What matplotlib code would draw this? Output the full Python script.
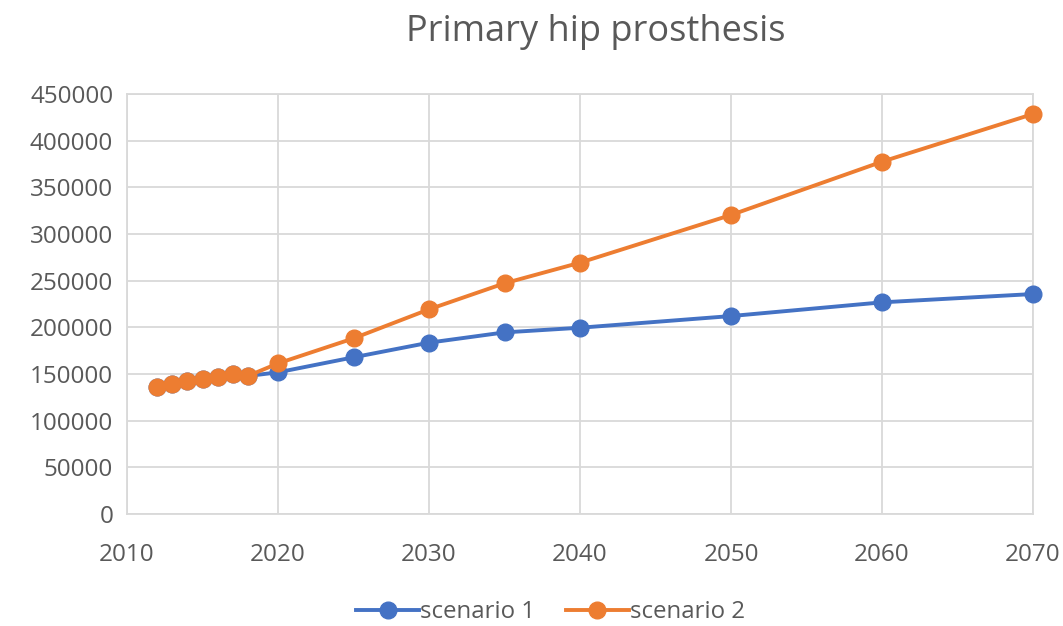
import matplotlib
matplotlib.use("Agg")
import matplotlib.pyplot as plt

years = [2012, 2013, 2014, 2015, 2016, 2017, 2018, 2020, 2025, 2030, 2035, 2040, 2050, 2060, 2070]
scenario1 = [136400, 139300, 142800, 144600, 146400, 149600, 147900, 151800, 167900, 183600, 194600, 199600, 212100, 226800, 235700]
scenario2 = [136400, 139300, 142800, 144600, 146400, 149600, 147900, 161400, 188200, 219300, 247200, 269300, 320400, 377500, 428600]
series_names = ["scenario 1", "scenario 2"]
title = "Primary hip prosthesis"

plt.rcParams['font.family'] = ['Open Sans', 'DejaVu Sans']
text_color = "#595959"
grid_color = "#D9D9D9"

fig = plt.figure(figsize=(10.63, 6.26), dpi=100)
ax = fig.add_axes([0.1195, 0.1789, 0.8523, 0.6709])

ax.plot(years, scenario1, color="#4472C4", lw=2.8, marker="o", ms=12, label=series_names[0], zorder=3, clip_on=False)
ax.plot(years, scenario2, color="#ED7D31", lw=2.8, marker="o", ms=12, label=series_names[1], zorder=4, clip_on=False)

ax.set_xlim(2010, 2070)
ax.set_ylim(0, 450000)
ax.set_xticks(range(2010, 2071, 10))
ax.set_yticks(range(0, 450001, 50000))
ax.grid(True, color=grid_color, lw=1.3)
ax.set_axisbelow(True)
for s in ax.spines.values():
    s.set_color(grid_color)
    s.set_linewidth(1.3)
ax.tick_params(length=0, labelsize=17.5, colors=text_color, pad=10)
ax.tick_params(axis='x', pad=21)

fig.suptitle(title, fontsize=26, color=text_color, x=0.56, y=0.978)
fig.legend(loc="lower center", bbox_to_anchor=(0.518, -0.032), ncol=2, frameon=False,
           fontsize=17.3, labelcolor=text_color, handlelength=2.6, columnspacing=1.3, handletextpad=0.05)

fig.savefig("out.png", dpi=100)
